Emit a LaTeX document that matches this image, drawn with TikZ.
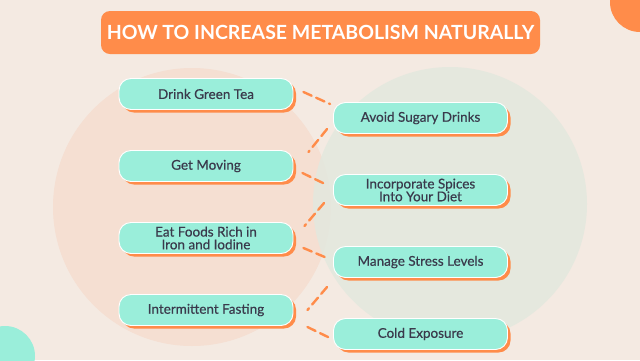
\documentclass[tikz,border=0pt]{standalone}
\usepackage{fontspec}
\setmainfont{Lato}
\newfontfamily\boxfont{Lato}[FakeBold=0.5]
\usetikzlibrary{shadows,calc}
\definecolor{bgc}{HTML}{F4EAE2}
\definecolor{leftc}{HTML}{F5DFD2}
\definecolor{rightc}{HTML}{E3E8DE}
\definecolor{orangec}{HTML}{FF8C4A}
\definecolor{tealc}{HTML}{9AEEDA}
\definecolor{inkc}{HTML}{3A3A4C}
\tikzset{
  item/.style={rounded corners=12pt, fill=tealc, draw=white, line width=0.9pt,
    minimum width=174pt, minimum height=31pt, inner sep=0pt, align=center,
    text=inkc, font=\boxfont\fontsize{13.5}{12.8}\selectfont,
    drop shadow={shadow xshift=3pt, shadow yshift=-3pt, fill=orangec, opacity=1}},
  conn/.style={draw=orangec, line width=2.4pt, line cap=round, dash pattern=on 9pt off 5pt},
}
\begin{document}
\begin{tikzpicture}[x=1pt,y=-1pt]
\useasboundingbox (0,0) rectangle (640,360);
\fill[bgc] (0,0) rectangle (640,360);
\fill[leftc] (192,207) circle[radius=139];
\fill[rightc, opacity=0.88] (450,204) circle[radius=137];
\fill[tealc] (5,356) circle[radius=30];
\fill[orangec] (640,2) circle[radius=30];
\node[fill=orangec, rounded corners=9pt, minimum width=439pt, minimum height=43pt,
  text=white, font=\bfseries\fontsize{19.5}{19.5}\selectfont, inner sep=0pt] (title) at (320.5,32.5)
  {HOW TO INCREASE METABOLISM NATURALLY};
% left column
\node[item] (l1) at (206,94) {Drink Green Tea};
\node[item] (l2) at (206,166) {Get Moving};
\node[item] (l3) at (206,238) {Eat Foods Rich in\\Iron and Iodine};
\node[item] (l4) at (206,310) {Intermittent Fasting};
% right column
\node[item] (r1) at (420.5,118) {Avoid Sugary Drinks};
\node[item] (r2) at (420.5,190) {Incorporate Spices\\Into Your Diet};
\node[item] (r3) at (420.5,262) {Manage Stress Levels};
\node[item] (r4) at (420.5,334) {Cold Exposure};
% connectors
\draw[conn] ($(l1.east)+(10,-2)$) -- ($(r1.west)+(-3,-14)$);
\draw[conn] ($(r1.west)+(-6,11)$) -- ($(l2.east)+(15,-14)$);
\draw[conn] ($(l2.east)+(9,7)$) -- ($(r2.west)+(-8,-6)$);
\draw[conn] ($(r2.west)+(-9,13)$) -- ($(l3.east)+(11,-12)$);
\draw[conn] ($(l3.east)+(10,10)$) -- ($(r3.west)+(-6,-4)$);
\draw[conn] ($(r3.west)+(-6,25)$) -- ($(l4.east)+(14,0)$);
\draw[conn] ($(l4.east)+(14,17)$) -- ($(r4.west)+(-3,4)$);
\end{tikzpicture}
\end{document}
